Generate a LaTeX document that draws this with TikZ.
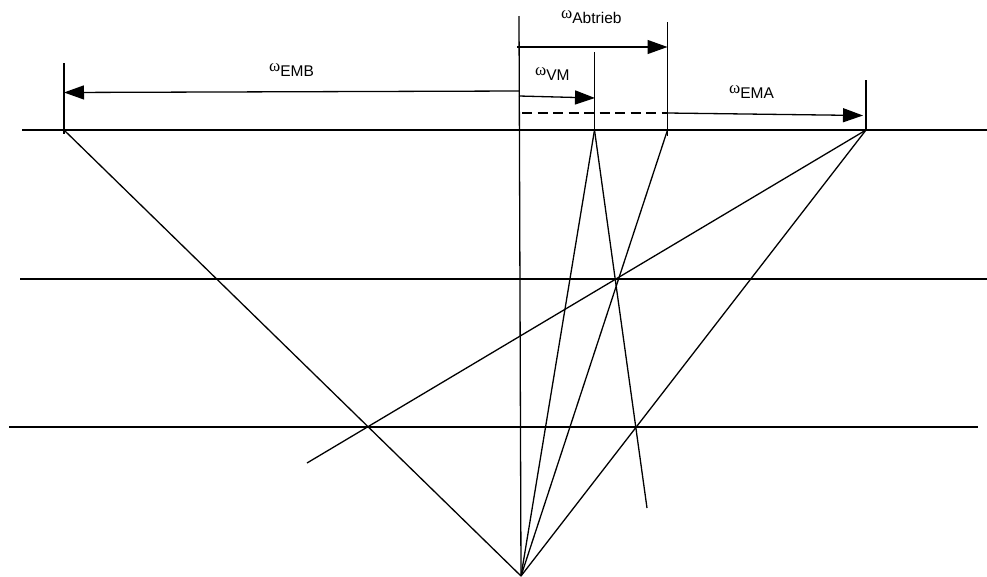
\documentclass[tikz,border=0pt]{standalone}
\usepackage{fontspec}
\setmainfont{Liberation Sans}
\newfontfamily\omegafont{Liberation Serif}
\usetikzlibrary{arrows.meta}
\tikzset{
  ln/.style={draw=black,line width=1.3pt},
  arr/.style={ln,-{Triangle[length=20pt,width=14pt]}},
  lbl/.style={inner sep=0pt,anchor=base west,font=\fontsize{15.5pt}{18pt}\selectfont}
}
\newcommand{\omlabel}[1]{{\omegafont\fontsize{17pt}{18pt}\selectfont ω}\raisebox{-5pt}{#1}}
\begin{document}
\begin{tikzpicture}[x=1pt,y=-1pt]
\useasboundingbox[fill=white] (0,0) rectangle (987,576);
% levels
\coordinate (h1l) at (22,130);  \coordinate (h1r) at (987,130);
\coordinate (h2l) at (20,279);  \coordinate (h2r) at (987,279);
\coordinate (h3l) at (9,427);   \coordinate (h3r) at (978,427);
\draw[ln] (h1l) -- (h1r);
\draw[ln] (h2l) -- (h2r);
\draw[ln] (h3l) -- (h3r);
% points
\coordinate (apex) at (521,576);
\coordinate (axtop) at (519,16);
\coordinate (b) at (64,130);   \coordinate (btop) at (64,63);
\coordinate (v) at (594.5,130); \coordinate (vtop) at (594.5,52);
\coordinate (o) at (667.5,130); \coordinate (otop) at (667.5,22); \coordinate (obot) at (667.5,136);
\coordinate (a) at (866,130);  \coordinate (atop) at (866,80);
\coordinate (aend) at (307,463);
\coordinate (vend) at (647,508);
% verticals
\draw[ln] (axtop) -- (apex);
\draw[ln] (btop) -- (64,134);
\draw[ln] (vtop) -- (v);
\draw[ln] (otop) -- (obot);
\draw[ln] (atop) -- (a);
% rays
\draw[ln] (b) -- (apex);
\draw[ln] (v) -- (apex);
\draw[ln] (o) -- (apex);
\draw[ln] (a) -- (apex);
\draw[ln] (a) -- (aend);
\draw[ln] (v) -- (vend);
% arrows
\coordinate (s1) at (517,47);  \coordinate (e1) at (667.5,47);
\coordinate (s2) at (519,96);  \coordinate (e2) at (595,98);
\coordinate (s3) at (519,91);  \coordinate (e3) at (64,92.5);
\coordinate (s4) at (667,113); \coordinate (e4) at (863,115.5);
\coordinate (s5) at (522,113);
\draw[arr] (s1) -- (e1);
\draw[arr] (s2) -- (e2);
\draw[arr] (s3) -- (e3);
\draw[arr] (s4) -- (e4);
\draw[ln,dash pattern=on 10pt off 5.5pt] (s5) -- (s4);
% labels
\node[lbl] (lab1) at (561,18) {\omlabel{Abtrieb}};
\node[lbl] (lab2) at (535,75) {\omlabel{VM}};
\node[lbl] (lab3) at (269,71) {\omlabel{EMB}};
\node[lbl] (lab4) at (729,93) {\omlabel{EMA}};
\end{tikzpicture}
\end{document}
